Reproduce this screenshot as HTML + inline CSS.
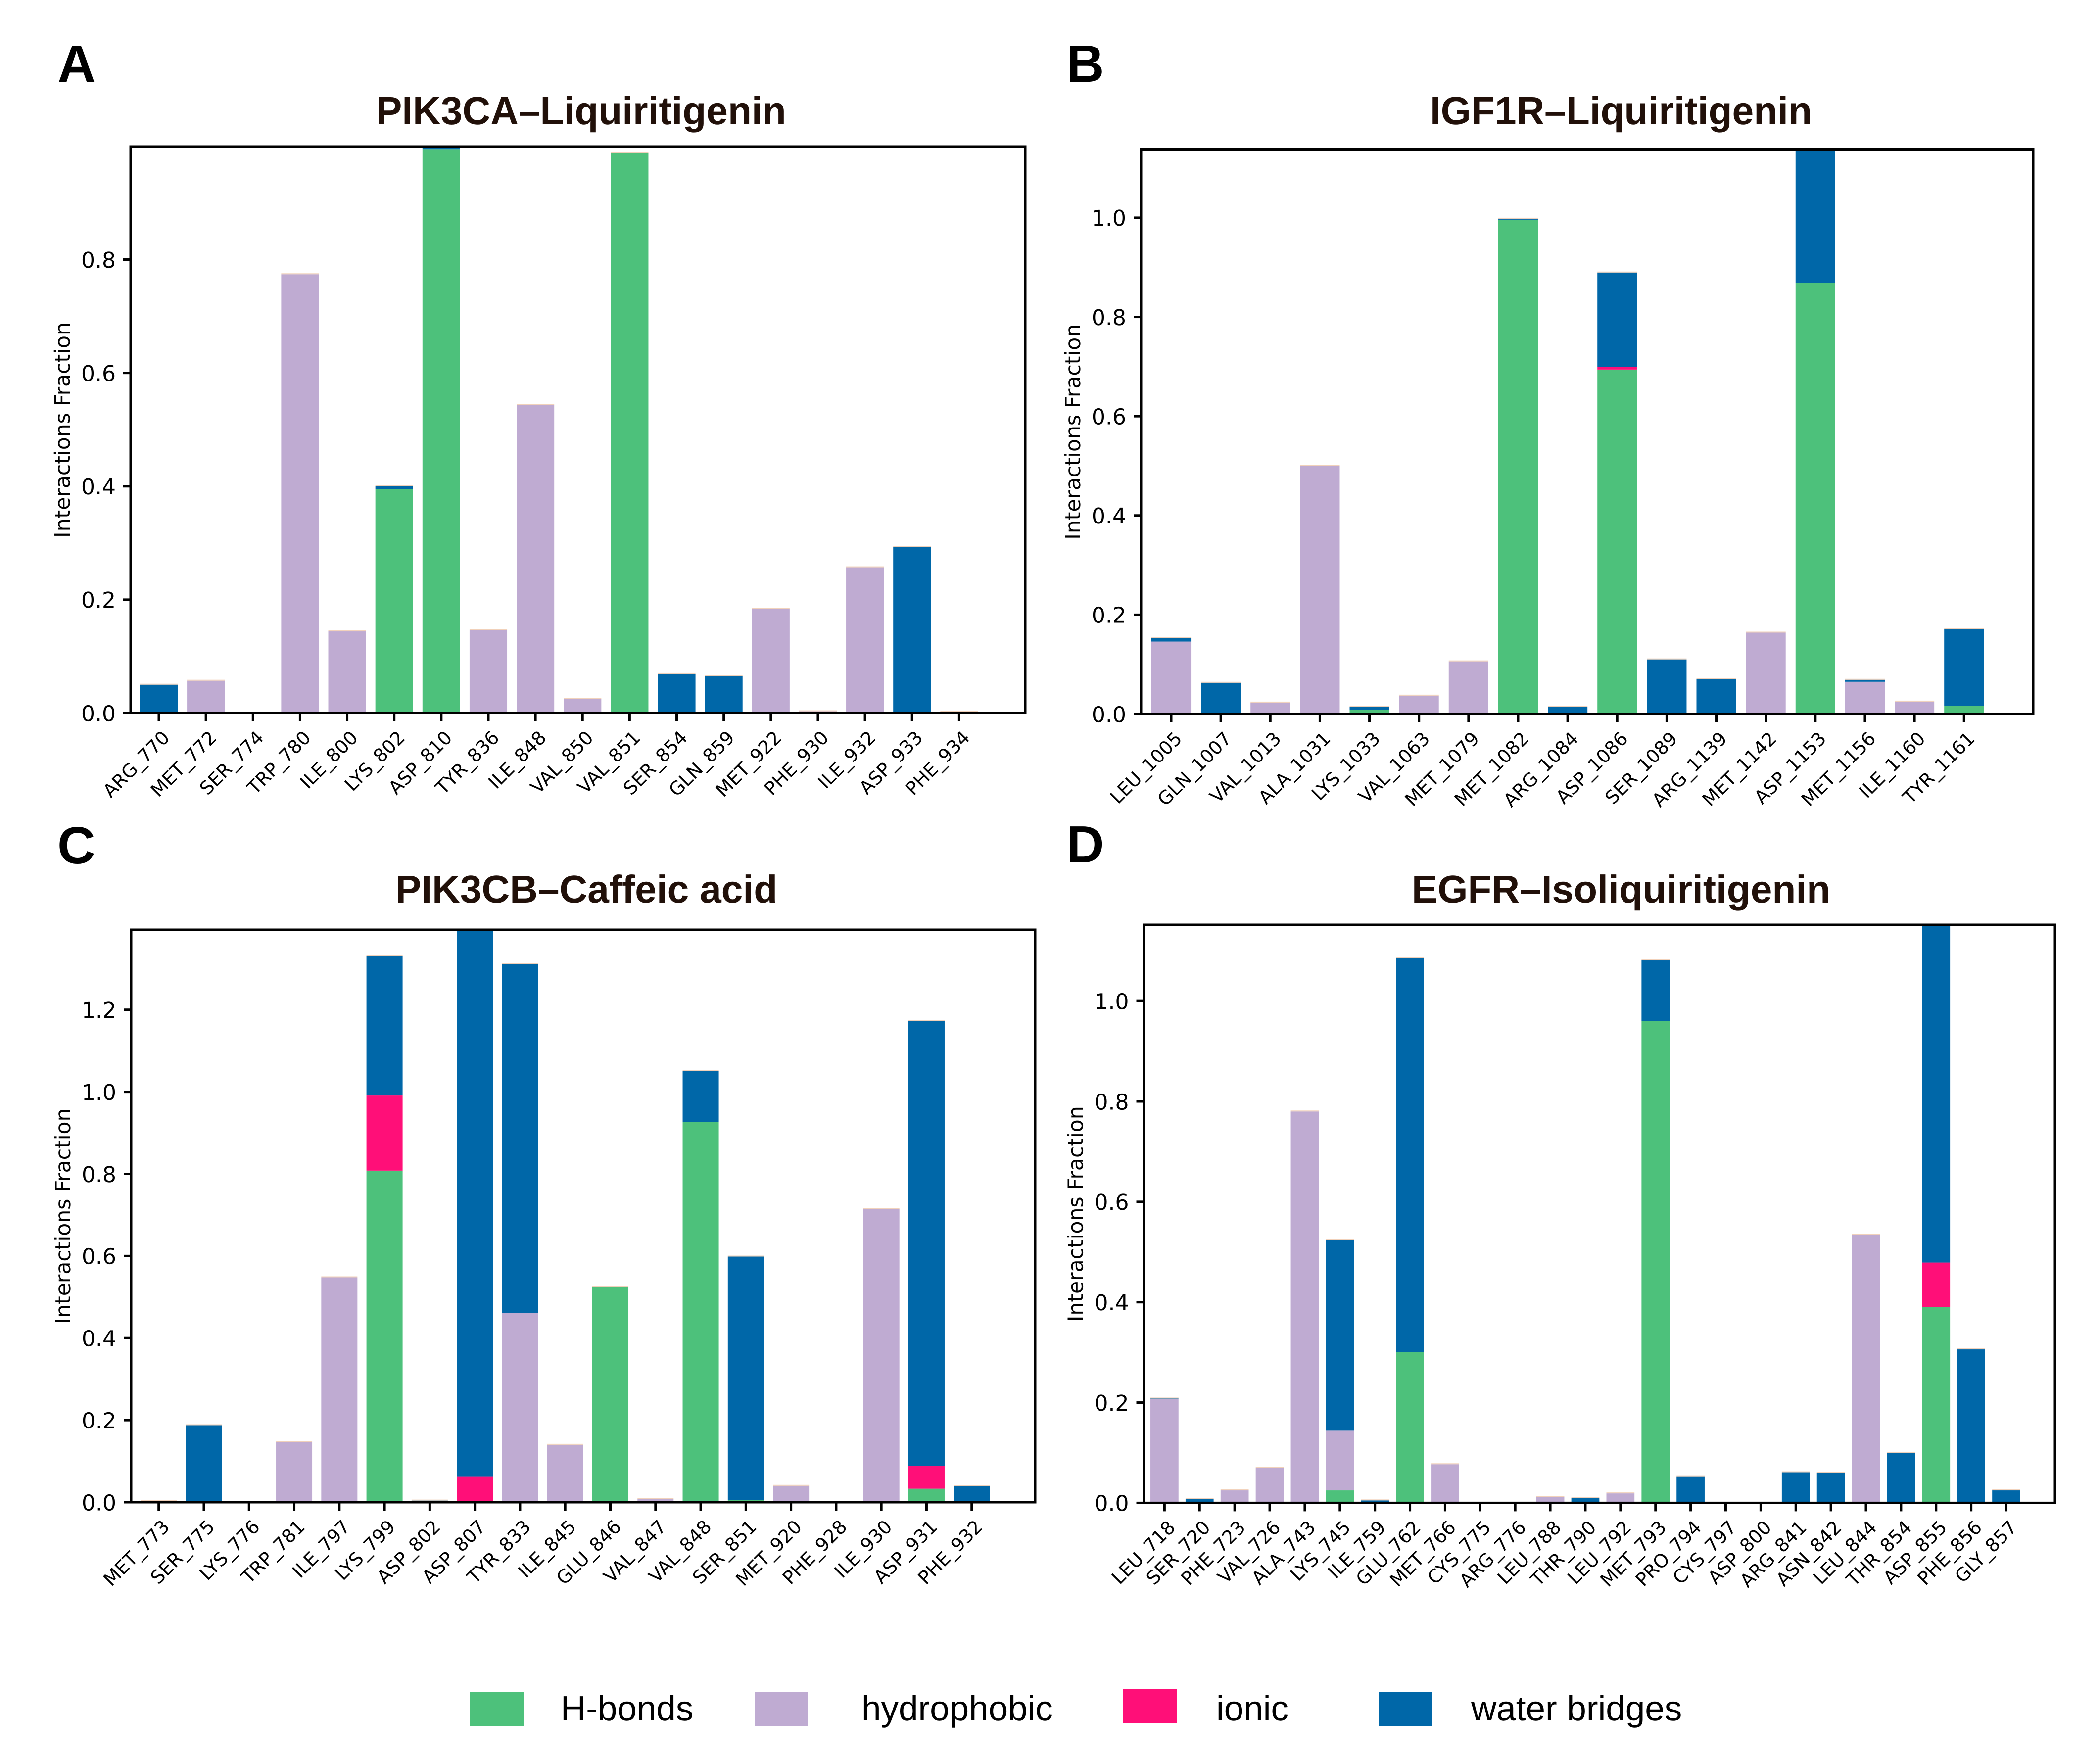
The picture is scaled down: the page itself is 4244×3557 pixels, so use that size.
<!DOCTYPE html>
<html lang="en">
<head>
<meta charset="utf-8">
<title>Protein-ligand interaction fractions</title>
<style>
html,body{margin:0;padding:0;background:#fff;}
svg{display:block;}
.tick-y{font-family:"DejaVu Sans",sans-serif;font-size:44px;fill:#000;text-anchor:end;}
.tick-x{font-family:"DejaVu Sans",sans-serif;font-size:37.5px;fill:#000;text-anchor:end;}
.y-title{font-family:"DejaVu Sans",sans-serif;font-size:42.5px;fill:#000;text-anchor:middle;}
.title{font-family:"Liberation Sans",sans-serif;font-weight:bold;font-size:78.5px;fill:#211009;}
.letter{font-family:"Liberation Sans",sans-serif;font-weight:bold;font-size:106px;fill:#000;}
.legend{font-family:"Liberation Sans",sans-serif;font-size:71px;fill:#000;}
</style>
</head>
<body>
<svg id="figure" xmlns="http://www.w3.org/2000/svg" width="4244" height="3557" viewBox="0 0 4244 3557" text-rendering="geometricPrecision">
  <rect x="0" y="0" width="4244" height="3557" fill="#fff"/>

  <text class="letter" x="116.5" y="165">A</text>
  <text class="letter" x="2155" y="165">B</text>
  <text class="letter" x="116" y="1745">C</text>
  <text class="letter" x="2155" y="1743">D</text>

  <text class="title" x="760" y="251">PIK3CA–Liquiritigenin</text>
  <text class="title" x="2890" y="251">IGF1R–Liquiritigenin</text>
  <text class="title" x="799" y="1824">PIK3CB–Caffeic acid</text>
  <text class="title" x="2853" y="1824">EGFR–Isoliquiritigenin</text>

  <g id="panel-a"></g>
  <g id="panel-b"></g>
  <g id="panel-c"></g>
  <g id="panel-d"></g>

  <g>
    <g>
      <rect x="950" y="3419" width="108" height="69" fill="#4dc17b"/>
      <text class="legend" x="1133" y="3477">H-bonds</text>
    </g>
    <g>
      <rect x="1525" y="3420" width="108" height="69" fill="#bfabd2"/>
      <text class="legend" x="1741" y="3477">hydrophobic</text>
    </g>
    <g>
      <rect x="2270" y="3413" width="108" height="69" fill="#ff0f78"/>
      <text class="legend" x="2458" y="3477">ionic</text>
    </g>
    <g>
      <rect x="2786" y="3420" width="108" height="69" fill="#0067a8"/>
      <text class="legend" x="2973" y="3477">water bridges</text>
    </g>
  </g>
</svg>

<script>
// Panel A: PIK3CA-Liquiritigenin
const residuesA = ["ARG_770","MET_772","SER_774","TRP_780","ILE_800","LYS_802","ASP_810","TYR_836","ILE_848","VAL_850","VAL_851","SER_854","GLN_859","MET_922","PHE_930","ILE_932","ASP_933","PHE_934"];
const hbondsA      = [0,0,0,0,0,0.395,0.994,0,0,0,0.988,0,0,0,0,0,0,0];
const hydrophobicA = [0,0.057,0,0.774,0.144,0,0,0.146,0.543,0.025,0,0,0,0.184,0.003,0.257,0,0.002];
const ionicA       = [0,0,0,0,0,0,0,0,0,0,0,0,0,0,0,0,0,0];
const waterA       = [0.05,0,0,0,0,0.005,0.01,0,0,0,0,0.069,0.065,0,0,0,0.293,0];
const yTicksA = [0,0.2,0.4,0.6,0.8];

// Panel B: IGF1R-Liquiritigenin
const residuesB = ["LEU_1005","GLN_1007","VAL_1013","ALA_1031","LYS_1033","VAL_1063","MET_1079","MET_1082","ARG_1084","ASP_1086","SER_1089","ARG_1139","MET_1142","ASP_1153","MET_1156","ILE_1160","TYR_1161"];
const hbondsB      = [0,0,0,0,0.008,0,0,0.996,0,0.694,0,0,0,0.869,0,0,0.016];
const hydrophobicB = [0.146,0,0.023,0.4995,0,0.037,0.106,0,0,0,0,0,0.164,0,0.065,0.025,0];
const ionicB       = [0,0,0,0,0,0,0,0,0,0.0055,0,0,0,0,0,0,0];
const waterB       = [0.0075,0.063,0,0,0.006,0,0,0.002,0.014,0.19,0.11,0.07,0,0.28,0.004,0,0.155];
const yTicksB = [0,0.2,0.4,0.6,0.8,1.0];

// Panel C: PIK3CB-Caffeic acid
const residuesC = ["MET_773","SER_775","LYS_776","TRP_781","ILE_797","LYS_799","ASP_802","ASP_807","TYR_833","ILE_845","GLU_846","VAL_847","VAL_848","SER_851","MET_920","PHE_928","ILE_930","ASP_931","PHE_932"];
const hbondsC      = [0,0,0,0,0,0.808,0,0,0,0,0.5236,0,0.927,0.006,0,0,0,0.033,0];
const hydrophobicC = [0,0,0,0.147,0.548,0,0,0,0.4615,0.14,0,0.008,0,0,0.04,0,0.714,0,0];
const ionicC       = [0.003,0,0,0,0,0.183,0,0.062,0,0,0,0,0,0,0,0,0,0.055,0];
const waterC       = [0,0.1875,0,0,0,0.34,0.004,1.35,0.85,0,0,0,0.124,0.5926,0,0,0,1.085,0.039];
const yTicksC = [0,0.2,0.4,0.6,0.8,1.0,1.2];

// Panel D: EGFR-Isoliquiritigenin
const residuesD = ["LEU_718","SER_720","PHE_723","VAL_726","ALA_743","LYS_745","ILE_759","GLU_762","MET_766","CYS_775","ARG_776","LEU_788","THR_790","LEU_792","MET_793","PRO_794","CYS_797","ASP_800","ARG_841","ASN_842","LEU_844","THR_854","ASP_855","PHE_856","GLY_857"];
const hbondsD      = [0,0,0,0,0,0.025,0,0.301,0,0,0,0,0,0,0.96,0,0,0,0,0,0,0.001,0.39,0,0];
const hydrophobicD = [0.2066,0,0.025,0.07,0.78,0.119,0,0,0.077,0,0,0.012,0,0.019,0,0,0,0,0,0,0.534,0,0,0,0];
const ionicD       = [0,0,0,0,0,0,0,0,0,0,0,0,0,0,0,0,0,0,0,0.002,0,0,0.089,0,0];
const waterD       = [0.0014,0.008,0,0,0,0.379,0.005,0.784,0,0,0,0,0.01,0,0.121,0.052,0,0,0.061,0.058,0,0.099,0.69,0.306,0.025];
const yTicksD = [0,0.2,0.4,0.6,0.8,1.0];

const seriesColors = {hbonds:"#4dc17b", hydrophobic:"#bfabd2", ionic:"#ff0f78", water:"#0067a8"};
const SVG_NS = "http://www.w3.org/2000/svg";

function mk(parent, tag, attrs, text) {
  const el = document.createElementNS(SVG_NS, tag);
  for (const k in attrs) el.setAttribute(k, attrs[k]);
  if (text !== undefined) el.textContent = text;
  parent.appendChild(el);
  return el;
}

function drawPanel(cfg) {
  const root = document.getElementById(cfg.id);
  const {left, right, top, bottom} = cfg;
  const xScale = i => cfg.firstTick + i * cfg.step;
  const yScale = v => bottom - (v / cfg.yMax) * (bottom - top);
  const barW = cfg.step * 0.8;

  const clipId = cfg.id + "-clip";
  const defs = mk(root, "defs", {});
  const clip = mk(defs, "clipPath", {id: clipId});
  mk(clip, "rect", {x: left, y: top, width: right - left, height: bottom - top});

  const bars = mk(root, "g", {"clip-path": "url(#" + clipId + ")"});
  
  

  cfg.residues.forEach((res, i) => {
    let cum = 0;
    const cx = xScale(i);
    cfg.series.forEach(s => {
      const v = s.values[i];
      if (v <= 0) return;
      const y1 = yScale(cum + v), y0 = yScale(cum);
      const r = mk(bars, "rect", {x: cx - barW / 2, y: y1, width: barW, height: y0 - y1, fill: s.color});
      
      
      cum += v;
    });
    if (cum > 0) {
      const edge = mk(bars, "rect", {x: cx - barW / 2, y: yScale(cum) - 2, width: barW, height: 2, fill: "#eec9ae", opacity: 0.85});
      
      
    }
  });

  const frame = mk(root, "rect", {x: left, y: top, width: right - left, height: bottom - top, fill: "none", stroke: "#000", "stroke-width": 5});
  
  

  cfg.yTicks.forEach(t => {
    const y = yScale(t);
    const tick = mk(root, "line", {x1: left - 15, x2: left, y1: y, y2: y, stroke: "#000", "stroke-width": 5});
    
    
    const lbl = mk(root, "text", {class: "tick-y", x: left - 30, y: y + 16.3}, t.toFixed(1));
    
    
  });

  cfg.residues.forEach((res, i) => {
    const x = xScale(i);
    const tick = mk(root, "line", {x1: x, x2: x, y1: bottom, y2: bottom + 17, stroke: "#000", "stroke-width": 5});
    
    
    const lx = x + 24, ly = bottom + 52;
    const lbl = mk(root, "text", {class: "tick-x", x: lx, y: ly, transform: "rotate(-45 " + lx + " " + ly + ")"}, res);
    
    
  });

  const tx = left - 123, ty = (top + bottom) / 2;
  const yTitle = mk(root, "text", {class: "y-title", x: tx, y: ty, transform: "rotate(-90 " + tx + " " + ty + ")"}, "Interactions Fraction");
  
  
}

function seriesOf(h, p, n, w) {
  return [
    {values: h, color: seriesColors.hbonds},
    {values: p, color: seriesColors.hydrophobic},
    {values: n, color: seriesColors.ionic},
    {values: w, color: seriesColors.water}
  ];
}

drawPanel({id:"panel-a", left:264, right:2072, top:297, bottom:1441, firstTick:321, step:95.14, yMax:0.9986,
  residues:residuesA, yTicks:yTicksA, series:seriesOf(hbondsA, hydrophobicA, ionicA, waterA)});
drawPanel({id:"panel-b", left:2306, right:4109, top:302.5, bottom:1443, firstTick:2367, step:100.14, yMax:1.137,
  residues:residuesB, yTicks:yTicksB, series:seriesOf(hbondsB, hydrophobicB, ionicB, waterB)});
drawPanel({id:"panel-c", left:265, right:2092, top:1879, bottom:3036, firstTick:320.7, step:91.28, yMax:1.395,
  residues:residuesC, yTicks:yTicksC, series:seriesOf(hbondsC, hydrophobicC, ionicC, waterC)});
drawPanel({id:"panel-d", left:2311.5, right:4153, top:1869, bottom:3037.4, firstTick:2353.4, step:70.88, yMax:1.152,
  residues:residuesD, yTicks:yTicksD, series:seriesOf(hbondsD, hydrophobicD, ionicD, waterD)});
</script>
</body>
</html>
